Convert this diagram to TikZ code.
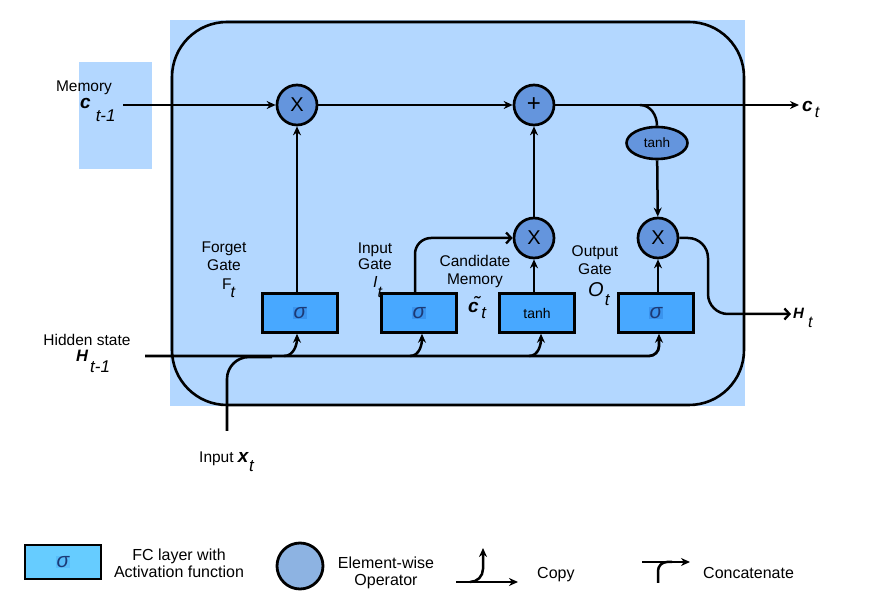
\documentclass[tikz,border=0pt]{standalone}
\usepackage{fontspec}
\setmainfont{Liberation Sans}
\usetikzlibrary{arrows.meta,shapes.geometric}
\definecolor{bgblue}{RGB}{179,215,255}
\definecolor{opblue}{RGB}{100,149,221}
\definecolor{fcblue}{RGB}{72,168,255}
\definecolor{sigbg}{RGB}{58,148,238}
\definecolor{sigtxt}{RGB}{28,58,118}
\definecolor{legbox}{RGB}{102,204,255}
\definecolor{legsig}{RGB}{88,190,250}
\definecolor{legop}{RGB}{141,179,226}
\newcommand\fsz[1]{\fontsize{#1}{#1}\selectfont}
\newcommand\sigtext[1]{{\setlength{\fboxsep}{0.6pt}\colorbox{#1}{\fsz{21}\itshape\color{sigtxt}σ}}}
\tikzset{
  opnode/.style={circle, draw, line width=2.7pt, fill=opblue, minimum size=40pt, inner sep=0pt, font=\fsz{20}},
  fcbox/.style={rectangle, draw, line width=2.6pt, fill=fcblue, minimum width=75pt, minimum height=39pt, inner sep=0pt},
  lbl/.style={align=center, inner sep=0pt, font=\fsz{15.5}, text depth=0pt},
  conn/.style={line width=2.5pt},
  arr/.style={conn, -{Stealth[length=9pt,width=8pt]}},
  barb/.style={conn, -{Straight Barb[length=5pt,width=11pt,line width=2.3pt]}},
}
\begin{document}
\begin{tikzpicture}[x=1pt,y=-1pt]
\useasboundingbox (0,0) rectangle (887,601);
% backgrounds
\fill[bgblue] (170,20) rectangle (745,406);
\fill[bgblue] (79,62) rectangle (152,169);
\draw[line width=2.6pt, rounded corners=55pt] (172,22) rectangle (744,405);

% operator nodes
\node[opnode] (m1) at (297,105) {X};
\node[opnode, font=\fsz{24}] (pl) at (534,105) {+};
\node[opnode] (m2) at (534,238) {X};
\node[opnode] (m3) at (658,238) {X};
\node[ellipse, draw, line width=2.6pt, fill=opblue, minimum width=61pt, minimum height=32pt, inner sep=0pt, font=\fsz{13.5}] (th) at (657,143) {tanh};

% FC boxes
\node[fcbox] (f1) at (300,313) {\sigtext{sigbg}};
\node[fcbox] (g2) at (419,313) {\sigtext{sigbg}};
\node[fcbox, font=\fsz{14}] (g3) at (537,313) {tanh};
\node[fcbox] (g4) at (656,313) {\sigtext{sigbg}};

% coordinates for free ends
\coordinate (mem) at (123,105);
\coordinate (ct) at (799,105);
\coordinate (tb) at (640,105);
\coordinate (hid) at (145,356);
\coordinate (b1) at (284,356);
\coordinate (b2) at (410,356);
\coordinate (b3) at (529,356);
\coordinate (xin) at (227,431);
\coordinate (xj) at (272,357);
\coordinate (oc) at (708,314);
\coordinate (Ht) at (791,314);

% connectors
\draw[arr] (mem) -- (m1);
\draw[arr] (m1) -- (pl);
\draw[arr] (pl) -- (ct);
\draw[conn] (tb) to[out=0,in=90] (th.north);
\draw[arr] (th) -- (m3);
\draw[arr] (f1.north -| m1) -- (m1);
\draw[arr] (g3.north -| m2) -- (m2);
\draw[arr] (m2) -- (pl);
\draw[arr] (g4.north -| m3) -- (m3);
\draw[barb, rounded corners=16pt] ([xshift=-4pt]g2.north) |- (m2);
\draw[barb, rounded corners=20pt] (m3) -| (oc) -- (Ht);

\draw[arr, line width=2.8pt, rounded corners=10pt] (hid) -| ([xshift=3pt]g4.south);
\draw[arr] (b1) to[out=0,in=-90] ([xshift=-3pt]f1.south);
\draw[arr] (b2) to[out=0,in=-90] ([xshift=3pt]g2.south);
\draw[arr] (b3) to[out=0,in=-90] ([xshift=4pt]g3.south);
\draw[conn, line width=2.6pt, rounded corners=22pt] (xin) |- (xj);

% labels
\node[lbl] (memlbl) at (84,86) {Memory};
\node[anchor=base west, inner sep=0pt] (ctm1) at (80,109) {\fsz{19}\bfseries\itshape c\hspace{5pt}\raisebox{-13pt}{\fsz{17}\mdseries t-1}};
\node[anchor=base west, inner sep=0pt] (ctl) at (802,112) {\fsz{19}\bfseries\itshape c\hspace{2pt}\raisebox{-6pt}{\fsz{16}\mdseries t}};
\node[lbl] (hidlbl) at (87,340) {Hidden state};
\node[anchor=base west, inner sep=0pt] (htm1) at (76,362) {\fsz{16.5}\bfseries\itshape H\hspace{2pt}\raisebox{-11pt}{\fsz{17}\mdseries t-1}};
\node[anchor=base west, inner sep=0pt] (htl) at (793,319) {\fsz{15}\bfseries\itshape H\hspace{4pt}\raisebox{-9pt}{\fsz{16}\mdseries t}};
\node[anchor=base west, inner sep=0pt, font=\fsz{15.5}] (xl) at (199,463) {Input {\fsz{19}\bfseries\itshape x\hspace{0.5pt}\raisebox{-9pt}{\fsz{17}\mdseries t}}};

\node[lbl] (fgl) at (224,256) {Forget\\[2pt]Gate};
\node[anchor=base west, inner sep=0pt] (fsub) at (222,290) {\fsz{15.5}F\hspace{-1pt}\raisebox{-8pt}{\fsz{16}\itshape t}};
\node[lbl] (igl) at (375,256) {Input\\[1pt]Gate};
\node[anchor=base west, inner sep=0pt] (isub) at (373,288) {\fsz{16}\itshape I\hspace{0pt}\raisebox{-10pt}{\fsz{16}t}};
\node[lbl] (cml) at (475,270) {Candidate\\[2pt]Memory};
\node[anchor=base west, inner sep=0pt] (csub) at (468,313) {\fsz{19}\bfseries\itshape \~{c}\hspace{2.5pt}\raisebox{-6pt}{\fsz{17}\mdseries t}};
\node[lbl] (ogl) at (595,260) {Output\\[3pt]Gate};
\node[anchor=base west, inner sep=0pt] (osub) at (588,297) {\fsz{20}\itshape O\hspace{1pt}\raisebox{-9pt}{\fsz{17}t}};

% legend
\node[rectangle, draw, line width=2.6pt, fill=legbox, minimum width=76pt, minimum height=34pt, inner sep=0pt] (lgbox) at (63,562) {\sigtext{legsig}};
\node[lbl, font=\fsz{16}] (lgboxt) at (179,563) {FC layer with\\[1pt]Activation function};
\node[circle, draw, line width=2.8pt, fill=legop, minimum size=46pt, inner sep=0pt] (lgop) at (300,566) {};
\node[lbl, font=\fsz{16}] (lgopt) at (386,571) {Element-wise\\[1pt]Operator};

\coordinate (cpa) at (456,582);
\coordinate (cpb) at (518,582);
\coordinate (cpc) at (470,582);
\coordinate (cpm) at (483,569);
\coordinate (cpd) at (483,548);
\draw[arr] (cpa) -- (cpb);
\draw[arr] (cpc) to[out=0,in=-90] (cpm) -- (cpd);
\node[anchor=west, lbl, font=\fsz{16}] (cpl) at (537,573) {Copy};

\coordinate (cca) at (642,562);
\coordinate (ccb) at (690,562);
\coordinate (ccc) at (658,583);
\coordinate (ccj) at (672,562);
\draw[arr] (cca) -- (ccb);
\draw[conn, rounded corners=9pt] (ccc) |- (ccj);
\node[anchor=west, lbl, font=\fsz{16}] (ccl) at (703,573) {Concatenate};
\end{tikzpicture}
\end{document}
